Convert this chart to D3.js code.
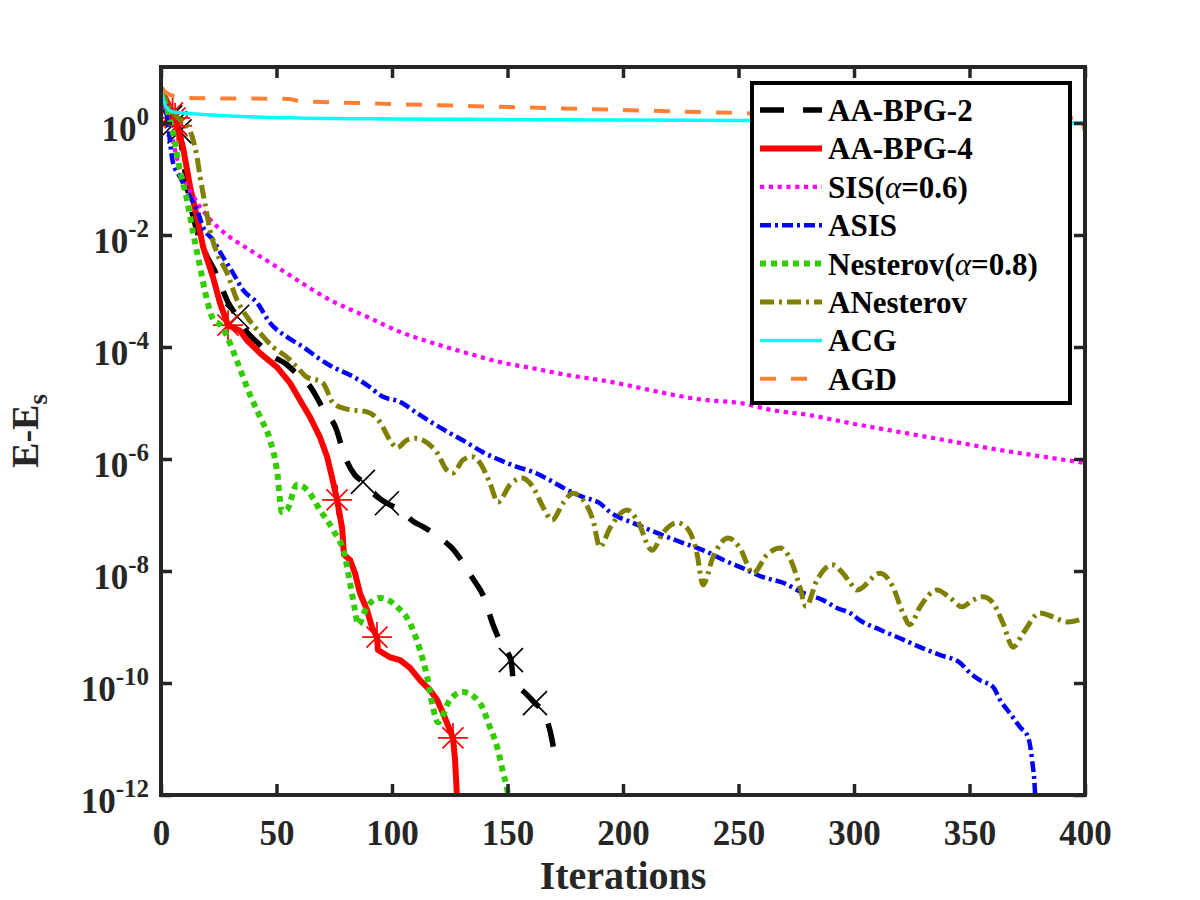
<!DOCTYPE html>
<html><head><meta charset="utf-8">
<script src="https://cdn.jsdelivr.net/npm/d3@7"></script>
<style>body{margin:0;background:#fff}svg{display:block}</style>
</head><body>
<svg id="chart" width="1200" height="900"></svg>
<script>
// ---------- data (iteration, log10(E - E_s)) ----------
const xTicks = [0, 50, 100, 150, 200, 250, 300, 350, 400];
const yTickExponents = [-12, -10, -8, -6, -4, -2, 0];
const seriesNames = ["AA-BPG-2", "AA-BPG-4", "SIS(\u03b1=0.6)", "ASIS", "Nesterov(\u03b1=0.8)", "ANesterov", "ACG", "AGD"];

const aabpg2Log10 = [[0,0.625],[2,0.3],[4,0.1],[6,0],[8,-0.15],[10,-0.75],[12,-1.3],[14.5,-1.77],[19,-2.3],[24,-2.7],[29,-3.2],[33,-3.46],[37,-3.72],[42,-3.93],[49,-4.18],[54,-4.3],[58,-4.45],[65,-4.73],[70,-5.09],[76,-5.48],[79,-5.89],[84,-6.29],[87.4,-6.41],[92.6,-6.64],[97.8,-6.79],[103.5,-6.91],[109.1,-7.11],[114.3,-7.23],[122.1,-7.45],[126,-7.59],[129.4,-7.77],[134.6,-8.11],[140.3,-8.52],[143.3,-8.91],[147.6,-9.32],[151.5,-9.59],[152.8,-10.04],[156.3,-10.13],[161.9,-10.36],[166.2,-10.57],[169.3,-11.02],[171,-11.46]];
const aabpg2Markers = [[4,0.1],[6,0],[8,-0.15],[33,-3.46],[87.4,-6.41],[97.8,-6.79],[151.5,-9.59],[161.9,-10.36]];

const aabpg4Log10 = [[0,0.625],[3,0.35],[6.1,0.09],[9.5,-0.43],[12.6,-1.14],[15.6,-1.68],[18.2,-2.21],[22.5,-2.75],[25.5,-3.21],[29,-3.61],[34.2,-3.71],[37.2,-3.88],[42.9,-4.11],[50.2,-4.36],[55.8,-4.64],[60.2,-4.95],[64.5,-5.25],[68.8,-5.61],[71.9,-5.96],[74,-6.32],[76.2,-6.73],[78.4,-7.23],[79.2,-7.71],[81.8,-7.8],[84,-8.04],[86.1,-8.39],[89.2,-8.7],[91.3,-9.0],[93.5,-9.18],[93.9,-9.41],[99.1,-9.54],[103.5,-9.59],[107.8,-9.73],[112.1,-9.95],[116.5,-10.13],[119.5,-10.3],[122.1,-10.54],[126.4,-10.98],[127.3,-11.38],[128.1,-12.0],[128.6,-13]];
const aabpg4Markers = [[5,0.18],[6.1,0.09],[7,-0.05],[29,-3.61],[76.2,-6.73],[93.5,-9.18],[126.4,-10.98]];

const sisLog10 = [[0,0.625],[4,-0.1],[8,-0.8],[13.9,-1.3],[21.2,-1.72],[28.6,-2.0],[38.5,-2.27],[50.2,-2.57],[58,-2.78],[73.2,-3.16],[89.2,-3.46],[103.5,-3.73],[117.7,-3.93],[132.5,-4.11],[146.8,-4.27],[161,-4.38],[175.8,-4.5],[190,-4.59],[236.4,-4.95],[250.6,-5.0],[265,-5.13],[279.7,-5.21],[298.3,-5.36],[319.9,-5.52],[341.6,-5.68],[363.2,-5.84],[380.5,-5.95],[400,-6.07]];

const asisLog10 = [[0,0.625],[2.6,0.107],[5.2,-0.71],[8.2,-0.96],[12.6,-1.32],[15.6,-1.55],[18.2,-1.86],[22.5,-2.09],[26.8,-2.39],[31.2,-2.68],[35.5,-2.98],[41.6,-3.21],[47.2,-3.57],[54.5,-3.82],[61.5,-4.0],[67.5,-4.18],[74.5,-4.36],[81.8,-4.5],[89.2,-4.68],[96.1,-4.89],[103.5,-4.98],[110.8,-5.18],[117.7,-5.36],[125.1,-5.54],[132.5,-5.71],[139.4,-5.88],[146.8,-6.02],[154.1,-6.14],[161,-6.23],[168.4,-6.38],[175.8,-6.55],[182.7,-6.68],[190,-6.79],[194.4,-6.95],[204.3,-7.14],[214.7,-7.32],[224.7,-7.48],[236.4,-7.66],[243.3,-7.8],[251.9,-7.95],[260.6,-8.11],[269.3,-8.21],[277.9,-8.39],[286.6,-8.52],[292.6,-8.66],[298.3,-8.75],[302.6,-8.88],[311.3,-9.05],[319.9,-9.2],[328.6,-9.36],[337.2,-9.5],[345.9,-9.64],[350.2,-9.82],[354.5,-9.95],[360.2,-10.07],[363.2,-10.3],[367.5,-10.54],[371.9,-10.79],[375.3,-10.96],[377.1,-11.38],[378.4,-12.0],[378.8,-13]];

const nesterovLog10 = [[0,0.625],[5.2,-0.18],[8.2,-0.84],[11.3,-1.38],[13.9,-1.96],[16.9,-2.57],[19.9,-3.16],[22.5,-3.5],[26,-3.62],[29,-3.85],[32.9,-4.25],[38.5,-4.85],[42.9,-5.25],[47.2,-5.66],[50.2,-6.2],[52.4,-6.95],[54.5,-6.91],[58.9,-6.46],[63.2,-6.55],[68.8,-6.91],[74.5,-7.27],[79.7,-7.75],[81.8,-8.21],[84,-8.7],[85.3,-8.96],[89.2,-8.64],[94.8,-8.48],[102.2,-8.64],[107.8,-8.93],[112.1,-9.41],[115.2,-9.89],[117.7,-10.43],[119.9,-10.7],[125.1,-10.3],[130.7,-10.16],[138.1,-10.36],[142.4,-10.79],[145.5,-11.14],[148.1,-11.61],[150.2,-12.0],[151.5,-13]];

const aNesterovLog10 = [[0,0.625],[3.9,0.268],[8.2,0.054],[11.7,-0.07],[13.9,-0.3],[15.6,-0.61],[16.9,-0.96],[19,-1.43],[21.2,-1.91],[24.2,-2.32],[28.6,-2.68],[32.9,-3.16],[37.2,-3.46],[42.9,-3.75],[48.5,-4.0],[54.5,-4.18],[58.9,-4.36],[63.2,-4.54],[67.5,-4.59],[70.1,-4.64],[74.5,-5.0],[80.5,-5.11],[89.2,-5.16],[94.8,-5.34],[99.1,-5.66],[102.2,-5.8],[106.5,-5.66],[110,-5.63],[115.2,-5.71],[119.5,-5.89],[123.8,-6.2],[126.4,-6.25],[130.7,-6.02],[134.6,-5.96],[138.1,-6.07],[142.4,-6.43],[145.9,-6.77],[151.1,-6.46],[156.3,-6.34],[161,-6.5],[165.4,-6.86],[169.3,-7.09],[174,-6.79],[178.4,-6.61],[182.7,-6.73],[187,-7.09],[190,-7.57],[194.4,-7.23],[201.7,-6.91],[206.1,-7.09],[212.6,-7.63],[217.3,-7.32],[223.4,-7.14],[227.7,-7.23],[232,-7.68],[234.6,-8.25],[239,-7.75],[245.5,-7.41],[250.6,-7.59],[256.3,-8.04],[262.3,-7.71],[268,-7.59],[273.2,-7.86],[276.6,-8.29],[279.2,-8.63],[284,-8.16],[290.5,-7.89],[295.2,-8.04],[298.3,-8.21],[301.3,-8.34],[311.3,-8.04],[316.9,-8.29],[321.2,-8.75],[324.2,-8.96],[328.6,-8.64],[335.9,-8.34],[341.6,-8.48],[346.8,-8.64],[351.5,-8.52],[355.8,-8.46],[360.2,-8.57],[364.5,-8.93],[368.8,-9.36],[373.2,-9.11],[380.5,-8.75],[386.1,-8.82],[392.2,-8.91],[400,-8.84]];

const acgLog10 = [[0,0.625],[2,0.3],[5,0.2],[10,0.179],[30,0.125],[60,0.089],[100,0.071],[200,0.054],[250,0.045],[300,0.036],[400,0]];
const agdLog10 = [[0,0.625],[4,0.5],[12,0.446],[55,0.43],[60,0.393],[85,0.357],[150,0.286],[200,0.232],[250,0.179],[300,0.143],[350,0.107],[398,0.089],[400,-0.161]];

// ---------- layout & styles ----------
const svg = d3.select("#chart");
const L = 161, R = 1085, T = 67, B = 795;
const axisColor = "#262626";
const serif = "'Liberation Serif','Times New Roman',serif";

const x = d3.scaleLinear().domain([0, 400]).range([L, R]);
const y = d3.scaleLog().domain([1e-12, 10]).range([B, T]);

const styles = [
  {data: aabpg2Log10, color: "#000000", width: 5.5, dash: "24,19", curve: d3.curveMonotoneX, markers: aabpg2Markers, marker: "x"},
  {data: aabpg4Log10, color: "#ff0000", width: 6, dash: null, curve: d3.curveLinear, markers: aabpg4Markers, marker: "*"},
  {data: sisLog10, color: "#ff00ff", width: 4.2, dash: "4.2,4.6", curve: d3.curveMonotoneX},
  {data: asisLog10, color: "#0000ff", width: 4.5, dash: "11,4,3,4", curve: d3.curveMonotoneX},
  {data: nesterovLog10, color: "#33cc00", width: 6, dash: "6,5", curve: d3.curveMonotoneX},
  {data: aNesterovLog10, color: "#808000", width: 5, dash: "14,5,3,5", curve: d3.curveMonotoneX},
  {data: acgLog10, color: "#00ffff", width: 3.5, dash: null, curve: d3.curveMonotoneX},
  {data: agdLog10, color: "#ff8033", width: 4, dash: "16,15", curve: d3.curveMonotoneX}
];

svg.append("rect").attr("x",0).attr("y",0).attr("width",1200).attr("height",900).attr("fill","#fff");

svg.append("defs").append("clipPath").attr("id","plotclip")
  .append("rect").attr("x",L).attr("y",T).attr("width",R-L).attr("height",B-T);

// ---------- series ----------
const plot = svg.append("g").attr("clip-path","url(#plotclip)");
styles.forEach(s => {
  const pts = s.data.map(d => [d[0], Math.pow(10, d[1])]);
  const line = d3.line().x(d => x(d[0])).y(d => y(d[1])).curve(s.curve);
  plot.append("path").attr("d", line(pts))
    .attr("fill","none").attr("stroke", s.color).attr("stroke-width", s.width)
    .attr("stroke-linejoin","round").attr("stroke-dasharray", s.dash);
  if (s.markers) {
    s.markers.forEach(m => {
      const cx = x(m[0]), cy = y(Math.pow(10, m[1]));
      const g = plot.append("g").attr("stroke", s.color).attr("stroke-width", 1.7);
      const a = s.marker === "x" ? 12 : 10.5;
      g.append("line").attr("x1",cx-a).attr("y1",cy-a).attr("x2",cx+a).attr("y2",cy+a);
      g.append("line").attr("x1",cx-a).attr("y1",cy+a).attr("x2",cx+a).attr("y2",cy-a);
      if (s.marker === "*") {
        g.append("line").attr("x1",cx-15).attr("y1",cy).attr("x2",cx+15).attr("y2",cy);
        g.append("line").attr("x1",cx).attr("y1",cy-15).attr("x2",cx).attr("y2",cy+15);
      }
    });
  }
});

// ---------- axes ----------
function styleAxis(g){
  g.select(".domain").remove();
  g.selectAll(".tick line").attr("stroke", axisColor).attr("stroke-width", 3.5);
}
const yTickVals = yTickExponents.map(e => Math.pow(10, e));
svg.append("g").attr("transform",`translate(0,${B})`)
  .call(d3.axisBottom(x).tickValues(xTicks).tickSizeInner(-11).tickSizeOuter(0).tickPadding(25).tickFormat(d3.format("d")))
  .call(styleAxis)
  .call(g => g.selectAll("text").attr("font-family", serif).attr("font-size", 35).attr("font-weight","bold").attr("fill", axisColor));
svg.append("g").attr("transform",`translate(0,${T})`)
  .call(d3.axisTop(x).tickValues(xTicks).tickSizeInner(-11).tickSizeOuter(0).tickFormat(""))
  .call(styleAxis);
svg.append("g").attr("transform",`translate(${L},0)`)
  .call(d3.axisLeft(y).tickValues(yTickVals).tickSizeInner(-11).tickSizeOuter(0).tickFormat(""))
  .call(styleAxis);
svg.append("g").attr("transform",`translate(${R},0)`)
  .call(d3.axisRight(y).tickValues(yTickVals).tickSizeInner(-11).tickSizeOuter(0).tickFormat(""))
  .call(styleAxis);

svg.append("rect").attr("x",L).attr("y",T).attr("width",R-L).attr("height",B-T)
  .attr("fill","none").attr("stroke",axisColor).attr("stroke-width",4);

// y tick labels 10^k
yTickExponents.forEach(e => {
  const t = svg.append("text").attr("x", 149).attr("y", y(Math.pow(10, e)) + 18)
    .attr("text-anchor","end").attr("font-family", serif).attr("font-weight","bold")
    .attr("font-size", 35).attr("fill", axisColor);
  t.append("tspan").text("10");
  t.append("tspan").attr("dy", -16).attr("font-size", 25).text(String(e));
});

// axis titles
svg.append("text").attr("x", (L+R)/2).attr("y", 889).attr("text-anchor","middle")
  .attr("font-family", serif).attr("font-weight","bold").attr("font-size", 40).attr("fill", axisColor)
  .text("Iterations");
const yl = svg.append("text").attr("transform", `translate(38,${(T+B)/2}) rotate(-90)`)
  .attr("text-anchor","middle").attr("font-family", serif).attr("font-weight","bold")
  .attr("font-size", 38).attr("fill", axisColor);
yl.append("tspan").text("E-E");
yl.append("tspan").attr("dy", 9).attr("font-size", 27).text("s");

// ---------- legend ----------
const lg = svg.append("g");
lg.append("rect").attr("x",752).attr("y",83).attr("width",318).attr("height",320)
  .attr("fill","#fff").attr("stroke","#000").attr("stroke-width",4);
seriesNames.forEach((name, i) => {
  const s = styles[i];
  const cy = 110 + i * 38.4;
  lg.append("line").attr("x1",760).attr("x2",822).attr("y1",cy).attr("y2",cy)
    .attr("stroke", s.color).attr("stroke-width", s.width).attr("stroke-dasharray", s.dash);
  const t = lg.append("text").attr("x",828).attr("y",cy+11)
    .attr("font-family", serif).attr("font-weight","bold").attr("font-size",31).attr("fill","#000");
  const m = name.match(/^(.*)\u03b1(.*)$/);
  if (m) {
    t.append("tspan").text(m[1]);
    t.append("tspan").attr("font-style","italic").attr("font-weight","normal").text("\u03b1");
    t.append("tspan").text(m[2]);
  } else t.text(name);
});
</script>
</body></html>
